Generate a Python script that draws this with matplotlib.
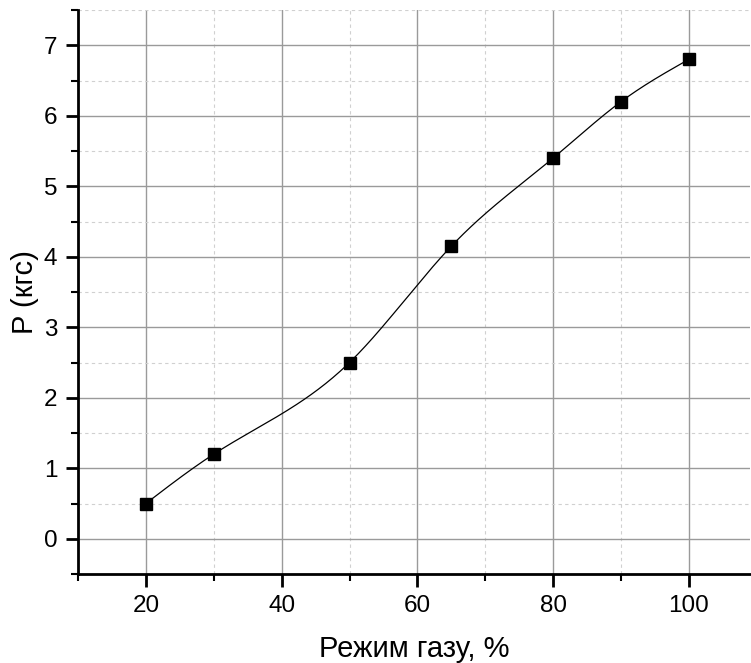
import numpy as np
import matplotlib.pyplot as plt
from matplotlib.ticker import MultipleLocator

# Тяга при різних режимах газу
rezhym = [20, 30, 50, 65, 80, 90, 100]
tyaga = [0.5, 1.2, 2.5, 4.15, 5.4, 6.2, 6.8]


def natural_spline(x, y, xs):
    # Природний кубічний сплайн без scipy
    x = np.asarray(x, float)
    y = np.asarray(y, float)
    n = len(x)
    h = np.diff(x)
    A = np.zeros((n, n))
    b = np.zeros(n)
    A[0, 0] = A[-1, -1] = 1.0
    for i in range(1, n - 1):
        A[i, i - 1] = h[i - 1]
        A[i, i] = 2 * (h[i - 1] + h[i])
        A[i, i + 1] = h[i]
        b[i] = 3 * ((y[i + 1] - y[i]) / h[i] - (y[i] - y[i - 1]) / h[i - 1])
    c = np.linalg.solve(A, b)
    bb = (y[1:] - y[:-1]) / h - h * (2 * c[:-1] + c[1:]) / 3
    d = (c[1:] - c[:-1]) / (3 * h)
    idx = np.clip(np.searchsorted(x, xs) - 1, 0, n - 2)
    t = xs - x[idx]
    return y[idx] + bb[idx] * t + c[idx] * t ** 2 + d[idx] * t ** 3


plt.rcParams['font.family'] = ['Liberation Sans', 'DejaVu Sans']

fig = plt.figure(figsize=(7.51, 6.63), dpi=100)
ax = fig.add_axes([78 / 751, 89 / 663, 672 / 751, 564 / 663])

xs = np.linspace(rezhym[0], rezhym[-1], 300)
ax.plot(xs, natural_spline(rezhym, tyaga, xs), color='black', lw=0.9, zorder=3)
ax.plot(rezhym, tyaga, 's', color='black', ms=8.5, zorder=4)

ax.set_xlim(10, 109)
ax.set_ylim(-0.5, 7.5)
ax.xaxis.set_major_locator(MultipleLocator(20))
ax.xaxis.set_minor_locator(MultipleLocator(10))
ax.yaxis.set_major_locator(MultipleLocator(1))
ax.yaxis.set_minor_locator(MultipleLocator(0.5))

ax.grid(which='major', color='#9a9a9a', lw=1.0, ls='-')
ax.grid(which='minor', color='#d0d0d0', lw=0.8, ls=(0, (3, 3)))
ax.set_axisbelow(True)

for side in ('top', 'right'):
    ax.spines[side].set_visible(False)
for side in ('left', 'bottom'):
    ax.spines[side].set_linewidth(2)

ax.tick_params(which='major', direction='out', length=9, width=2, labelsize=17.5, pad=6)
ax.tick_params(which='minor', direction='out', length=5, width=1.5)

ax.set_xlabel('Режим газу, %', fontsize=21, labelpad=13)
ax.set_ylabel('P (кгс)', fontsize=21, labelpad=3)

fig.savefig('out.png', dpi=100)
